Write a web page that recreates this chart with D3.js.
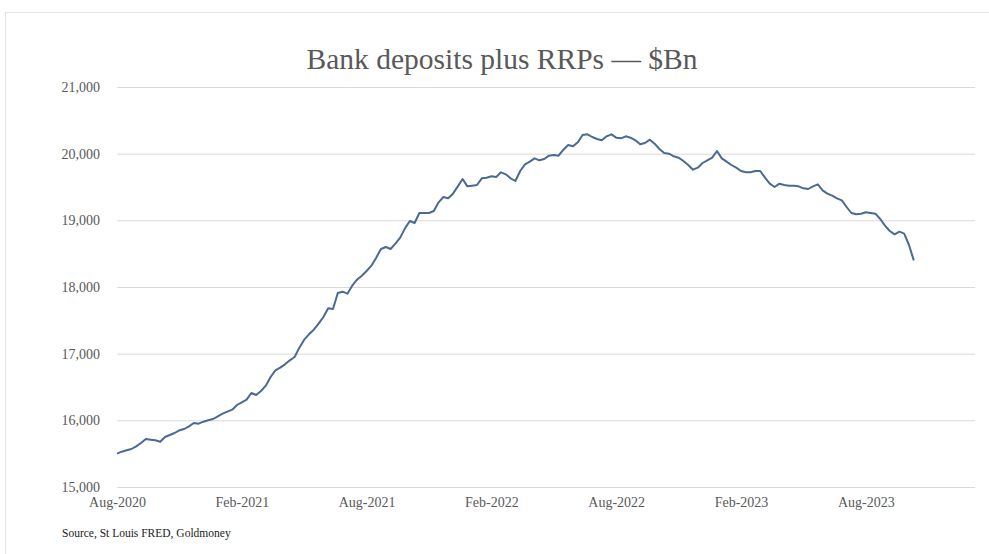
<!DOCTYPE html>
<html>
<head>
<meta charset="utf-8">
<script src="https://cdn.jsdelivr.net/npm/d3@7"></script>
<style>
  body { margin: 0; background: #fff; }
  svg text { font-family: Garamond, "Liberation Serif", serif; }
</style>
</head>
<body>
<div id="chart"></div>
<script>
// weekly values, $Bn (first point = Aug-2020)
var deposits = [
  15500, 15530, 15550, 15570, 15610, 15660, 15720, 15710, 15700, 15680,
  15750, 15780, 15810, 15850, 15870, 15910, 15960, 15950, 15980, 16000,
  16020, 16060, 16100, 16130, 16160, 16230, 16270, 16310, 16410, 16380,
  16440, 16520, 16650, 16750, 16790, 16840, 16900, 16950, 17090, 17210,
  17290, 17360, 17450, 17550, 17680, 17670, 17910, 17930, 17900, 18020,
  18110, 18170, 18240, 18320, 18440, 18570, 18600, 18570, 18650, 18740,
  18880, 18990, 18960, 19110, 19110, 19110, 19140, 19270, 19350, 19330,
  19400, 19510, 19620, 19510, 19520, 19530, 19630, 19640, 19660, 19650,
  19720, 19690, 19630, 19590, 19740, 19840, 19880, 19930, 19900, 19920,
  19970, 19980, 19970, 20060, 20130, 20110, 20170, 20280, 20290, 20250,
  20220, 20200, 20260, 20290, 20240, 20230, 20260, 20240, 20200, 20140,
  20160, 20210, 20150, 20070, 20010, 20000, 19960, 19940, 19890, 19830,
  19760, 19790, 19860, 19900, 19940, 20040, 19930, 19880, 19830, 19790,
  19740, 19720, 19720, 19740, 19740, 19640, 19550, 19500, 19550, 19530,
  19520, 19520, 19510, 19480, 19470, 19510, 19540, 19450, 19400, 19370,
  19330, 19300, 19200, 19110, 19090, 19100, 19120, 19110, 19100, 19020,
  18920, 18840, 18790, 18830, 18800, 18630, 18400
];

// category labels every 26 weeks
var xLabels = ["Aug-2020", "Feb-2021", "Aug-2021", "Feb-2022", "Aug-2022", "Feb-2023", "Aug-2023"];
var labelEvery = 26;
var yTicks = [15000, 16000, 17000, 18000, 19000, 20000, 21000];
var title = "Bank deposits plus RRPs \u2014 $Bn";
var source = "Source, St Louis FRED, Goldmoney";

function draw_chart() {
    var width = 989, height = 554;
    var m_left = 117, m_right = 975, m_top = 87, m_bottom = 487;
    var nSlots = 178.75;

    var svg = d3.select("#chart").append("svg")
        .attr("width", width)
        .attr("height", height);

    // outer frame
    svg.append("rect")
        .attr("x", 5.5).attr("y", 12.5)
        .attr("width", 1000).attr("height", 600)
        .attr("fill", "none")
        .attr("stroke", "#e3e3e3");

    var x = d3.scaleLinear().domain([0, nSlots]).range([m_left, m_right]);
    var y = d3.scaleLinear().domain([15000, 21000]).range([m_bottom, m_top]);

    // gridlines + y labels
    var yAxis = d3.axisLeft(y)
        .tickValues(yTicks)
        .tickSize(-(m_right - m_left))
        .tickPadding(17)
        .tickFormat(d3.format(","));

    var gy = svg.append("g")
        .attr("transform", "translate(" + m_left + ",0)")
        .call(yAxis);
    gy.select(".domain").remove();
    gy.selectAll(".tick line").attr("stroke", "#d9d9d9").attr("stroke-width", 1);
    gy.selectAll(".tick text")
        .attr("fill", "#595959")
        .style("font-size", "14px");

    // x labels
    var xAxis = d3.axisBottom(x)
        .tickValues(xLabels.map(function (d, i) { return i * labelEvery; }))
        .tickSize(0)
        .tickPadding(10)
        .tickFormat(function (d) { return xLabels[d / labelEvery]; });

    var gx = svg.append("g")
        .attr("transform", "translate(0," + m_bottom + ")")
        .call(xAxis);
    gx.select(".domain").remove();
    gx.selectAll(".tick text")
        .attr("fill", "#595959")
        .style("font-size", "14px");

    // line
    var line = d3.line()
        .x(function (d, i) { return x(i); })
        .y(function (d) { return y(d); });

    svg.append("path")
        .datum(deposits)
        .attr("fill", "none")
        .attr("stroke", "#4a6a94")
        .attr("stroke-width", 2)
        .attr("stroke-linejoin", "round")
        .attr("d", line);

    svg.append("text")
        .attr("x", 502)
        .attr("y", 69)
        .attr("text-anchor", "middle")
        .attr("fill", "#595959")
        .style("font-size", "29.5px")
        .text(title);

    svg.append("text")
        .attr("x", 62)
        .attr("y", 537)
        .attr("fill", "#1a1a1a")
        .style("font-size", "11.5px")
        .text(source);
}

draw_chart();
</script>
</body>
</html>
